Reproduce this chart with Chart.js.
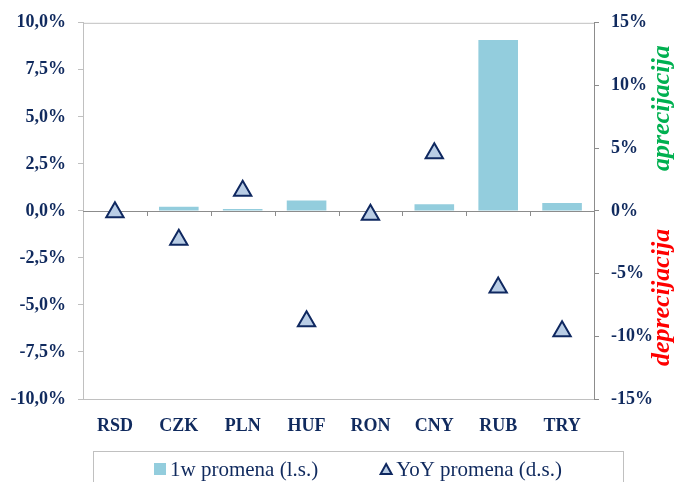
<!DOCTYPE html>
<html>
<head>
<meta charset="utf-8">
<script src="https://cdn.jsdelivr.net/npm/chart.js@4"></script>
<style>
	html, body { margin: 0; padding: 0; background: #fff; }
	#wrap { position: relative; width: 675px; height: 482px; }
</style>
</head>
<body>
<div id="wrap"><canvas id="fxChart" width="675" height="482"></canvas></div>
<script>
// valute
const currencies = ["RSD", "CZK", "PLN", "HUF", "RON", "CNY", "RUB", "TRY"];
// 1w promena, leva osa (%)
const weekChange = [0, 0.22, 0.1, 0.55, 0, 0.36, 9.08, 0.42];
// YoY promena, desna osa (%)
const yoyChange = [-0.1, -2.3, 1.6, -8.8, -0.3, 4.6, -6.1, -9.6];
const leftTicks = [-10, -7.5, -5, -2.5, 0, 2.5, 5, 7.5, 10];
const rightTicks = [-15, -10, -5, 0, 5, 10, 15];
const seriesNames = ["1w promena (l.s.)", "YoY promena (d.s.)"];

const navy = "#102a5e";
const barColor = "#93cddd";
const triFill = "#b9cde5";
const triLine = "#0f2860";
const serif = "'Liberation Serif', 'Times New Roman', serif";

const frame = {
	id: "frame",
	beforeDatasetsDraw(chart) {
		const ctx = chart.ctx, area = chart.chartArea;
		const y0 = chart.scales.y.getPixelForValue(0);
		const x = chart.scales.x;
		ctx.save();
		ctx.strokeStyle = "#c0c0c0";
		ctx.lineWidth = 1;
		ctx.beginPath();
		ctx.moveTo(area.left, area.top + 0.5);
		ctx.lineTo(area.right, area.top + 0.5);
		ctx.stroke();
		ctx.strokeStyle = "#8c8c8c";
		ctx.beginPath();
		ctx.moveTo(area.left, Math.round(y0) + 0.5);
		ctx.lineTo(area.right, Math.round(y0) + 0.5);
		for (let i = 0; i < currencies.length - 1; i++) {
			const bx = Math.round((x.getPixelForValue(i) + x.getPixelForValue(i + 1)) / 2) + 0.5;
			ctx.moveTo(bx, Math.round(y0));
			ctx.lineTo(bx, Math.round(y0) + 5);
		}
		ctx.stroke();
		ctx.restore();
	},
	afterDraw(chart) {
		const ctx = chart.ctx, area = chart.chartArea;
		const y1 = chart.scales.y1;
		ctx.save();
		// rotirani natpisi
		ctx.font = "italic bold 26px " + serif;
		ctx.textAlign = "center";
		ctx.textBaseline = "middle";
		[["aprecijacija", "#00b050", 8.2], ["deprecijacija", "#ff0000", -6.9]].forEach(([txt, col, v]) => {
			ctx.save();
			ctx.translate(area.right + 68, y1.getPixelForValue(v));
			ctx.rotate(-Math.PI / 2);
			ctx.fillStyle = col;
			ctx.fillText(txt, 0, 0);
			ctx.restore();
		});

		// legenda
		const boxL = area.left + 10, boxR = area.right + 29, boxT = area.bottom + 52;
		ctx.strokeStyle = "#c0c0c0";
		ctx.lineWidth = 1;
		ctx.strokeRect(boxL + 0.5, boxT + 0.5, boxR - boxL, 60);
		ctx.font = "21px " + serif;
		ctx.textAlign = "left";
		ctx.textBaseline = "middle";
		const w1 = ctx.measureText(seriesNames[0]).width;
		const w2 = ctx.measureText(seriesNames[1]).width;
		const gap = 62;
		const total = 16 + w1 + gap + 16 + w2;
		let cx = (boxL + boxR) / 2 - total / 2;
		const cy = boxT + 18;
		ctx.fillStyle = barColor;
		ctx.fillRect(cx, cy - 6, 12, 12);
		ctx.fillStyle = navy;
		ctx.fillText(seriesNames[0], cx + 16, cy + 1);
		cx += 16 + w1 + gap;
		ctx.beginPath();
		ctx.moveTo(cx + 6, cy - 5);
		ctx.lineTo(cx + 11.5, cy + 5);
		ctx.lineTo(cx + 0.5, cy + 5);
		ctx.closePath();
		ctx.fillStyle = triFill;
		ctx.fill();
		ctx.strokeStyle = triLine;
		ctx.lineWidth = 2;
		ctx.stroke();
		ctx.fillStyle = navy;
		ctx.fillText(seriesNames[1], cx + 16, cy + 1);
		ctx.restore();
	}
};

new Chart("fxChart", {
	data: {
		labels: currencies,
		datasets: [
			{
				type: "line",
				label: seriesNames[1],
				data: yoyChange,
				yAxisID: "y1",
				showLine: false,
				pointStyle: "triangle",
				pointRadius: 10,
				pointBorderWidth: 2,
				pointBackgroundColor: triFill,
				pointBorderColor: triLine,
				order: 0,
			},
			{
				type: "bar",
				label: seriesNames[0],
				data: weekChange,
				yAxisID: "y",
				backgroundColor: barColor,
				barPercentage: 0.62,
				categoryPercentage: 1,
				order: 1,
			},
		],
	},
	options: {
		responsive: false,
		animation: false,
		layout: { padding: { top: 22, bottom: 0, left: 0, right: 0 } },
		plugins: {
			legend: { display: false },
			tooltip: { enabled: false },
		},
		scales: {
			x: {
				grid: { display: false, drawTicks: false },
				border: { color: "#c0c0c0" },
				ticks: {
					color: navy,
					font: { family: serif, size: 18, weight: "bold" },
					padding: 17,
				},
				afterFit: (s) => { s.height = 83; },
			},
			y: {
				position: "left",
				min: -10,
				max: 10,
				afterBuildTicks: (s) => { s.ticks = leftTicks.map((v) => ({ value: v })); },
				grid: { drawOnChartArea: false, color: "#c0c0c0", tickLength: 5 },
				border: { color: "#c0c0c0" },
				ticks: {
					color: navy,
					font: { family: serif, size: 18, weight: "bold" },
					padding: 12,
					callback: (v) => v.toFixed(1).replace(".", ",") + "%",
				},
				afterFit: (s) => { s.width = 83; },
			},
			y1: {
				position: "right",
				min: -15,
				max: 15,
				afterBuildTicks: (s) => { s.ticks = rightTicks.map((v) => ({ value: v })); },
				grid: { drawOnChartArea: false, color: "#8c8c8c", tickLength: 5 },
				border: { color: "#8c8c8c" },
				ticks: {
					color: navy,
					font: { family: serif, size: 18, weight: "bold" },
					padding: 12,
					callback: (v) => v + "%",
				},
				afterFit: (s) => { s.width = 81; },
			},
		},
	},
	plugins: [frame],
});
</script>
</body>
</html>
